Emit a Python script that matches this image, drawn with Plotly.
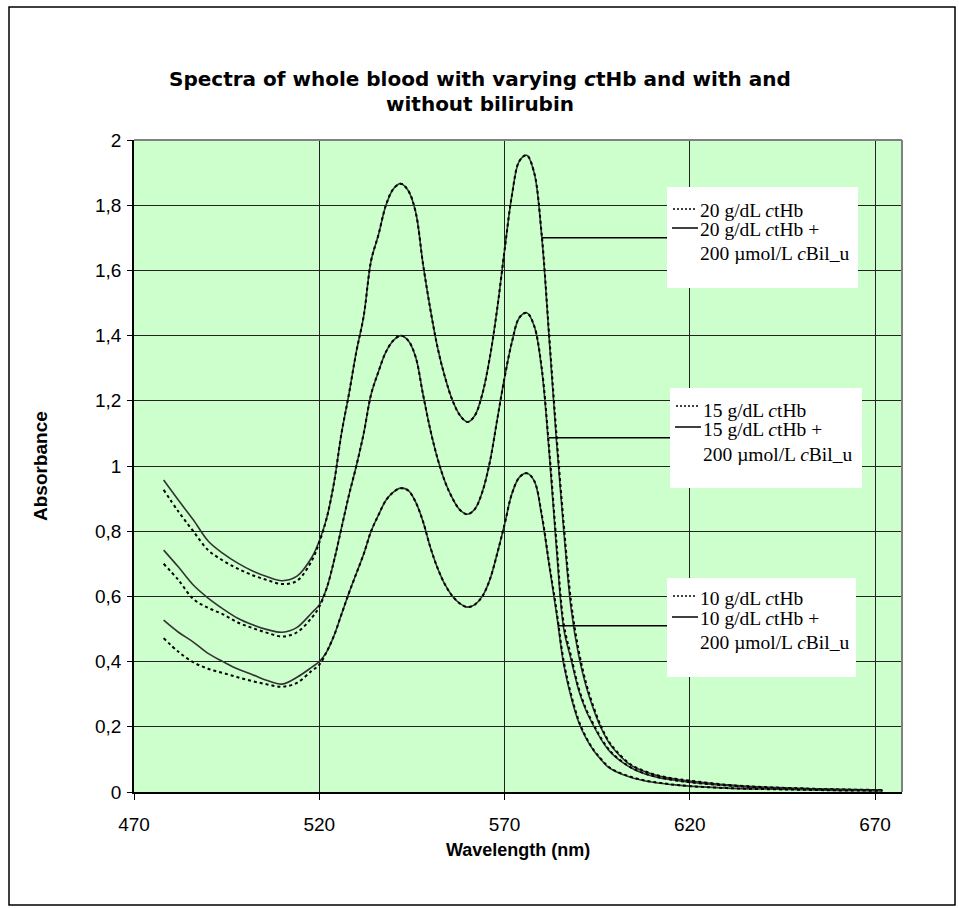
import plotly.graph_objects as go

# ---------------- data ----------------
wavelength = [478, 482, 486, 490, 494, 498, 502, 506, 510, 514, 518, 520, 522, 524, 526, 528,
              530, 532, 534, 536, 538, 540, 542, 544, 546, 548, 550, 552, 554, 556, 558, 560,
              562, 564, 566, 568, 570, 572, 574, 576, 578, 580, 582, 584, 586, 588, 590, 592,
              594, 596, 598, 600, 604, 608, 612, 616, 620, 630, 640, 650, 660, 672]

hb20 = [0.927, 0.860, 0.800, 0.742, 0.710, 0.685, 0.665, 0.650, 0.638, 0.648, 0.710, 0.765, 0.840, 0.950, 1.100, 1.220,
        1.350, 1.460, 1.630, 1.710, 1.800, 1.850, 1.866, 1.845, 1.780, 1.620, 1.480, 1.360, 1.270, 1.200, 1.155, 1.135,
        1.155, 1.220, 1.330, 1.480, 1.660, 1.830, 1.935, 1.953, 1.900, 1.715, 1.410, 1.100, 0.820, 0.580, 0.435, 0.335,
        0.262, 0.203, 0.158, 0.128, 0.085, 0.063, 0.049, 0.041, 0.035, 0.022, 0.015, 0.011, 0.008, 0.006]
hb20_bil = [0.957, 0.895, 0.835, 0.770, 0.732, 0.702, 0.678, 0.660, 0.648, 0.662, 0.720, 0.770, 0.840, 0.950, 1.100, 1.220,
            1.350, 1.460, 1.630, 1.710, 1.800, 1.850, 1.866, 1.845, 1.780, 1.620, 1.480, 1.360, 1.270, 1.200, 1.155, 1.135,
            1.155, 1.220, 1.330, 1.480, 1.660, 1.830, 1.935, 1.953, 1.900, 1.710, 1.400, 1.080, 0.800, 0.560, 0.420, 0.325,
            0.255, 0.198, 0.155, 0.125, 0.083, 0.062, 0.048, 0.040, 0.034, 0.022, 0.015, 0.011, 0.008, 0.006]

hb15 = [0.700, 0.650, 0.592, 0.565, 0.545, 0.520, 0.503, 0.488, 0.477, 0.490, 0.535, 0.568, 0.625, 0.710, 0.810, 0.910,
        1.000, 1.100, 1.220, 1.290, 1.350, 1.385, 1.400, 1.385, 1.335, 1.220, 1.110, 1.020, 0.950, 0.900, 0.865, 0.852,
        0.868, 0.920, 1.010, 1.140, 1.270, 1.380, 1.455, 1.470, 1.430, 1.305, 1.060, 0.770, 0.515, 0.415, 0.320, 0.255,
        0.208, 0.166, 0.133, 0.109, 0.076, 0.056, 0.044, 0.036, 0.030, 0.020, 0.013, 0.010, 0.007, 0.005]
hb15_bil = [0.742, 0.690, 0.635, 0.595, 0.562, 0.533, 0.513, 0.498, 0.490, 0.505, 0.550, 0.574, 0.625, 0.710, 0.810, 0.910,
            1.000, 1.100, 1.220, 1.290, 1.350, 1.385, 1.400, 1.385, 1.335, 1.220, 1.110, 1.020, 0.950, 0.900, 0.865, 0.852,
            0.868, 0.920, 1.010, 1.140, 1.270, 1.380, 1.455, 1.470, 1.430, 1.300, 1.050, 0.750, 0.500, 0.405, 0.313, 0.250,
            0.204, 0.163, 0.130, 0.107, 0.075, 0.055, 0.043, 0.036, 0.030, 0.020, 0.013, 0.010, 0.007, 0.005]

hb10 = [0.472, 0.430, 0.398, 0.378, 0.365, 0.352, 0.340, 0.330, 0.323, 0.335, 0.372, 0.390, 0.430, 0.480, 0.545, 0.610,
        0.670, 0.730, 0.800, 0.850, 0.895, 0.920, 0.932, 0.925, 0.890, 0.830, 0.750, 0.685, 0.635, 0.600, 0.578, 0.567,
        0.575, 0.600, 0.650, 0.730, 0.820, 0.915, 0.965, 0.978, 0.955, 0.855, 0.705, 0.560, 0.400, 0.298, 0.220, 0.168,
        0.130, 0.102, 0.078, 0.064, 0.047, 0.035, 0.028, 0.022, 0.018, 0.012, 0.009, 0.007, 0.005, 0.004]
hb10_bil = [0.527, 0.490, 0.460, 0.425, 0.400, 0.377, 0.360, 0.342, 0.331, 0.352, 0.383, 0.400, 0.430, 0.480, 0.545, 0.610,
            0.670, 0.730, 0.800, 0.850, 0.895, 0.920, 0.932, 0.925, 0.890, 0.830, 0.750, 0.685, 0.635, 0.600, 0.578, 0.567,
            0.575, 0.600, 0.650, 0.730, 0.820, 0.915, 0.965, 0.978, 0.955, 0.850, 0.700, 0.550, 0.390, 0.290, 0.215, 0.165,
            0.128, 0.100, 0.076, 0.063, 0.045, 0.034, 0.027, 0.022, 0.018, 0.012, 0.009, 0.007, 0.005, 0.004]

x_ticks = [470, 520, 570, 620, 670]
y_ticks = [0, 0.2, 0.4, 0.6, 0.8, 1.0, 1.2, 1.4, 1.6, 1.8, 2.0]
y_tick_text = ["0", "0,2", "0,4", "0,6", "0,8", "1", "1,2", "1,4", "1,6", "1,8", "2"]

title_lines = ["<b>Spectra of whole blood with varying <i>c</i>tHb and with and</b>",
               "<b>without bilirubin</b>"]
x_title = "<b>Wavelength (nm)</b>"
y_title = "<b>Absorbance</b>"

legend_groups = [
    ["20 g/dL <i>c</i>tHb", "20 g/dL <i>c</i>tHb +", "200 µmol/L <i>c</i>Bil_u"],
    ["15 g/dL <i>c</i>tHb", "15 g/dL <i>c</i>tHb +", "200 µmol/L <i>c</i>Bil_u"],
    ["10 g/dL <i>c</i>tHb", "10 g/dL <i>c</i>tHb +", "200 µmol/L <i>c</i>Bil_u"],
]

# ---------------- layout geometry (pixels) ----------------
W, H = 959, 908
L, R, T, B = 134, 902, 140, 792


def pxx(x):
    return (x - L) / (R - L)


def pxy(y):
    return (B - y) / (B - T)


fig = go.Figure()

solid_color = "#333333"
for with_bil, without_bil in [(hb20_bil, hb20), (hb15_bil, hb15), (hb10_bil, hb10)]:
    fig.add_trace(go.Scatter(x=wavelength, y=with_bil, mode="lines", line_shape="spline",
                             line=dict(color=solid_color, width=1.6), showlegend=False, hoverinfo="skip"))
    fig.add_trace(go.Scatter(x=wavelength, y=without_bil, mode="lines", line_shape="spline",
                             line=dict(color="black", width=2, dash="3px,3px"), showlegend=False,
                             hoverinfo="skip"))

shapes = []
annotations = []

# outer chart frame
shapes.append(dict(type="rect", xref="paper", yref="paper", x0=pxx(9), x1=pxx(955), y0=pxy(7), y1=pxy(905),
                   line=dict(color="black", width=1.5), fillcolor="rgba(0,0,0,0)", layer="below"))
# plot border top/right (grey)
shapes.append(dict(type="line", xref="paper", yref="paper", x0=0, x1=1, y0=1, y1=1,
                   line=dict(color="#808080", width=2)))
shapes.append(dict(type="line", xref="paper", yref="paper", x0=1, x1=1, y0=0, y1=1,
                   line=dict(color="#808080", width=2)))

boxes = [
    dict(box=(667, 858, 187, 288), lines=(209, 228, 252), dot_y=209, sol_y=228, leader=(542, 237.7)),
    dict(box=(670, 862, 388, 488), lines=(409, 428, 453), dot_y=406, sol_y=427, leader=(549, 437.7)),
    dict(box=(667, 856, 578, 677), lines=(597, 617, 641), dot_y=596, sol_y=617, leader=(558, 625.7)),
]
for b, texts in zip(boxes, legend_groups):
    x0, x1, y0, y1 = b["box"]
    shapes.append(dict(type="rect", xref="paper", yref="paper", x0=pxx(x0), x1=pxx(x1), y0=pxy(y1), y1=pxy(y0),
                       fillcolor="white", line=dict(color="white", width=0)))
    lx, ly = b["leader"]
    shapes.append(dict(type="line", xref="paper", yref="paper", x0=pxx(lx), x1=pxx(x0), y0=pxy(ly), y1=pxy(ly),
                       line=dict(color="black", width=1.5)))
    shapes.append(dict(type="line", xref="paper", yref="paper", x0=pxx(x0 + 6), x1=pxx(x0 + 30),
                       y0=pxy(b["dot_y"]), y1=pxy(b["dot_y"]),
                       line=dict(color="black", width=1.5, dash="2px,2px")))
    shapes.append(dict(type="line", xref="paper", yref="paper", x0=pxx(x0 + 5), x1=pxx(x0 + 31),
                       y0=pxy(b["sol_y"]), y1=pxy(b["sol_y"]),
                       line=dict(color="black", width=1.5)))
    for t, cy in zip(texts, b["lines"]):
        annotations.append(dict(text=t, xref="paper", yref="paper", x=pxx(x0 + 31), y=pxy(cy + 1),
                                xanchor="left", yanchor="middle", showarrow=False,
                                font=dict(family="Liberation Serif", size=19.5, color="black")))

# chart title (two lines)
for t, cy in zip(title_lines, (79, 104)):
    annotations.append(dict(text=t, xref="paper", yref="paper", x=pxx(480), y=pxy(cy),
                            xanchor="center", yanchor="middle", showarrow=False,
                            font=dict(family="DejaVu Sans", size=20, color="black")))

# axis titles
annotations.append(dict(text=x_title, xref="paper", yref="paper", x=pxx(518), y=pxy(850),
                        xanchor="center", yanchor="middle", showarrow=False,
                        font=dict(family="Liberation Sans", size=18, color="black")))
annotations.append(dict(text=y_title, xref="paper", yref="paper", x=pxx(40), y=pxy(466),
                        xanchor="center", yanchor="middle", showarrow=False, textangle=-90,
                        font=dict(family="Liberation Sans", size=19, color="black")))

fig.update_layout(
    width=W, height=H,
    margin=dict(l=L, r=W - R, t=T, b=H - B),
    paper_bgcolor="white",
    plot_bgcolor="#CCFFCC",
    showlegend=False,
    shapes=shapes,
    annotations=annotations,
    xaxis=dict(range=[470, 470 + (R - L) / 3.705], tickvals=x_ticks, ticktext=[str(v) for v in x_ticks],
               showgrid=True, gridcolor="#222222", gridwidth=1, zeroline=False,
               showline=True, linecolor="black", linewidth=1.5,
               ticks="outside", ticklen=6, tickcolor="black", ticklabelstandoff=8,
               tickfont=dict(family="Liberation Sans", size=19, color="black")),
    yaxis=dict(range=[0, 2], tickvals=y_ticks, ticktext=y_tick_text,
               showgrid=True, gridcolor="#222222", gridwidth=1, zeroline=False,
               showline=True, linecolor="black", linewidth=1.5,
               ticks="outside", ticklen=5, tickcolor="black", ticklabelstandoff=2,
               tickfont=dict(family="Liberation Sans", size=19, color="black")),
)

fig.write_html("out.html", config={"displayModeBar": False},
               post_script="document.body.style.margin='0';")
